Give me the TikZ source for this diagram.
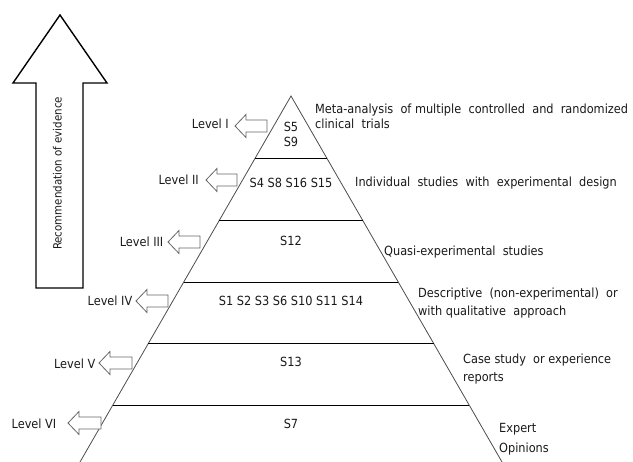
\documentclass[tikz,border=0pt]{standalone}
\usepackage{fontspec}
\setmainfont{DejaVu Sans Condensed}
\begin{document}
\begin{tikzpicture}[x=1pt,y=-1pt,
  txt/.style={inner sep=0pt,font=\fontsize{12.6}{14}\selectfont,text=black!90},
  lvl/.style={txt,anchor=base east},
  desc/.style={txt,anchor=base west},
  study/.style={txt,anchor=base},
  side/.style={draw=black!70,line width=0.8pt},
  tier/.style={draw=black,line width=0.9pt},
  harrow/.style={draw=black!60,line width=0.8pt,fill=white},
  bigarrow/.style={draw=black,line width=1.4pt,fill=white}]
\useasboundingbox (0,0) rectangle (633,462);
% big arrow
\draw[bigarrow] (60,15) -- (107,83) -- (83,83) -- (83,288) -- (36,288) -- (36,83) -- (13,83) -- cycle;
\node[txt,rotate=90,anchor=base,font=\fontsize{11.4}{13}\selectfont] (rec) at (61.5,173.5) {Recommendation of evidence};
% pyramid
\coordinate (apex) at (291,96);
\coordinate (bl) at (80,462);
\coordinate (br) at (502,462);
\draw[side] (bl) -- (apex) -- (br);
\foreach \y/\n in {158/a,220.5/b,282/c,343.5/d,405.5/e}{
  \pgfmathsetmacro{\dx}{(\y-96)*0.5765}
  \draw[tier] ({291-\dx},\y) -- ({291+\dx},\y);
}
% hollow arrows: tip x, right x, y
\foreach \tx/\rx/\yy in {235/267/126,206/237/180,168/200/242,136/168/301,99/132/363,68/101/423}{
  \draw[harrow] (\tx,\yy) -- (\tx+11,\yy-11.5) -- (\tx+11,\yy-6) -- (\rx,\yy-6) -- (\rx,\yy+6) -- (\tx+11,\yy+6) -- (\tx+11,\yy+11.5) -- cycle;
}
% level labels
\node[lvl] (l1) at (229,129) {Level I};
\node[lvl] (l2) at (199,184.3) {Level II};
\node[lvl] (l3) at (163.5,246.7) {Level III};
\node[lvl] (l4) at (132.5,305.7) {Level IV};
\node[lvl] (l5) at (95.5,368.3) {Level V};
\node[lvl] (l6) at (56.5,428.3) {Level VI};
% studies
\node[study] (s1) at (291,131.7) {S5};
\node[study] (s1b) at (291,146.7) {S9};
\node[study] (s2) at (291,187.3) {S4 S8 S16 S15};
\node[study] (s3) at (291,246) {S12};
\node[study] (s4) at (291,305.7) {S1 S2 S3 S6 S10 S11 S14};
\node[study] (s5) at (291,366.7) {S13};
\node[study] (s6) at (291,428.3) {S7};
% descriptions
\node[desc] (d1a) at (315,114) {Meta-analysis\ \ of multiple\ \ controlled\ \ and\ \ randomized};
\node[desc] (d1b) at (315,129) {clinical\ \ trials};
\node[desc] (d2) at (355,187) {Individual\ \ studies\ \ with\ \ experimental\ \ design};
\node[desc] (d3) at (384,255.7) {Quasi-experimental\ \ studies};
\node[desc] (d4a) at (418,297.3) {Descriptive\ \ (non-experimental)\ \ or};
\node[desc] (d4b) at (418,316) {with\ qualitative\ \ approach};
\node[desc] (d5a) at (463,363.3) {Case\ study\ \ or\ experience};
\node[desc] (d5b) at (463,382) {reports};
\node[desc] (d6a) at (499,432.3) {Expert};
\node[desc] (d6b) at (499,452.7) {Opinions};
\end{tikzpicture}
\end{document}
